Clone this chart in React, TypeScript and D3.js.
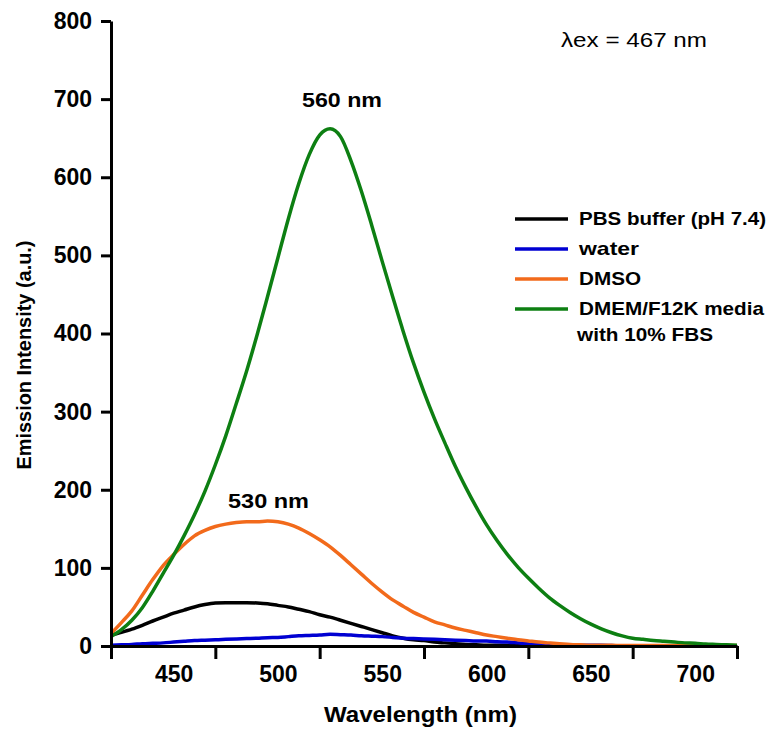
import React, { useEffect, useRef } from "react";
import * as d3 from "d3";

// Wavelength grid (nm) shared by all spectra
const wavelengths = [
  420, 425, 430, 435, 440, 445, 450, 455, 460, 465, 470, 475, 480, 485, 490,
  495, 500, 505, 510, 515, 520, 525, 530, 535, 540, 545, 550, 555, 560, 565,
  570, 575, 580, 585, 590, 595, 600, 605, 610, 615, 620, 625, 630, 635, 640,
  645, 650, 655, 660, 665, 670, 675, 680, 685, 690, 695, 700, 705, 710, 715,
  720,
];

// Emission intensities (a.u.)
const pbsBuffer = [
  14, 17.5, 21.5, 26.5, 32, 37, 42, 46, 50, 53, 55, 55.5, 55.5, 55.5, 55, 54,
  52, 50, 47, 44, 40, 37, 33, 29, 25, 21, 17, 13, 10, 8, 7, 5, 4, 3, 2, 1.5, 1,
  1, 1, 1, 0.5, 0, 0, 0, 0, 0, 0, 0, 0, 0, 0, 0, 0, 0, 0, 0, 0, 0, 0, 0, 0,
];
const water = [
  1, 1.5, 2, 3, 3.5, 4, 5, 6, 7, 7.5, 8, 8.5, 9, 9.5, 10, 10.7, 11, 12, 13,
  13.5, 14, 15, 14.5, 14, 13, 12.5, 12, 11, 10, 9.5, 9, 8.5, 8, 7.5, 7, 6.5,
  6.4, 5.5, 5, 4, 3, 2.5, 2, 1.5, 1.2, 1, 1, 1, 0.5, 0, 0, 0, 0, 0, 0, 0, 0,
  0, 0, 0, 0,
];
const dmso = [
  16, 30, 45, 65, 85, 103, 117, 130, 141, 148, 153, 156, 158, 159, 159, 160,
  159, 156, 151, 144, 136, 127, 116, 104, 92, 80, 69, 59, 51, 43, 37, 31, 27,
  23, 20, 17, 14, 12, 10, 8, 6.5, 5, 4, 3, 2, 1.5, 1, 1, 1, 0.5, 0.5, 0.5, 0.5,
  0.5, 0.5, 0.5, 0.5, 0.5, 0.5, 0.5, 0.5,
];
const dmemMedia = [
  12, 21, 33, 49, 70, 93, 116, 141, 168, 198, 232, 269, 310, 352, 398, 447,
  497, 547, 592, 629, 654, 662, 652, 621, 582, 538, 492, 447, 403, 362, 325,
  291, 260, 230, 203, 178, 155, 135, 117, 101, 87, 74, 62, 52, 43, 35, 28, 22,
  17, 13, 10, 8.5, 7, 6, 5, 4, 3.5, 2.5, 2, 1.5, 1,
];

const seriesNames = [
  "PBS buffer (pH 7.4)",
  "water",
  "DMSO",
  "DMEM/F12K media",
];
const seriesColors = ["#000000", "#0000d2", "#f26a1b", "#0d7f12"];
const seriesValues = [pbsBuffer, water, dmso, dmemMedia];

const xTickValues = [420, 470, 520, 570, 620, 670, 720];
const xLabelValues = [450, 500, 550, 600, 650, 700];
const yTickValues = [0, 100, 200, 300, 400, 500, 600, 700, 800];

const FONT = "'Liberation Sans', Arial, sans-serif";

export default function App() {
  const ref = useRef<SVGSVGElement>(null);

  useEffect(() => {
    const width = 771,
      height = 731;
    const left = 111,
      right = 737,
      top = 21,
      bottom = 646;

    const svg = d3.select(ref.current);
    svg.selectAll("*").remove();
    svg.attr("width", width).attr("height", height);

    const x = d3.scaleLinear().domain([420, 720]).range([left, right]);
    const y = d3.scaleLinear().domain([0, 800]).range([bottom, top]);

    // Curves, in legend order
    const line = d3
      .line<number>()
      .x((d, i) => x(wavelengths[i]))
      .y((d) => y(d))
      .curve(d3.curveMonotoneX);

    seriesValues.forEach((vals, i) => {
      svg
        .append("path")
        .attr("d", line(vals))
        .attr("fill", "none")
        .attr("stroke", seriesColors[i])
        .attr("stroke-width", 3.5)
        .attr("stroke-linejoin", "round");
    });

    // X axis: tick marks only
    const xAxis = svg
      .append("g")
      .attr("transform", `translate(0, ${bottom})`)
      .call(
        d3
          .axisBottom(x)
          .tickValues(xTickValues)
          .tickSize(13)
          .tickSizeOuter(0)
          .tickFormat(() => "")
      );
    xAxis.select(".domain").attr("stroke-width", 3);
    xAxis.selectAll(".tick line").attr("stroke-width", 3);

    // X axis labels sit between the tick marks
    const xLabels = svg
      .append("g")
      .attr("transform", `translate(0, ${bottom})`)
      .call(
        d3
          .axisBottom(x)
          .tickValues(xLabelValues)
          .tickSize(0)
          .tickPadding(20)
      );
    xLabels.select(".domain").remove();
    xLabels
      .selectAll(".tick text")
      .attr("font-family", FONT)
      .attr("font-weight", "bold")
      .attr("font-size", 23)
      .attr("fill", "#000");

    // Y axis
    const yAxis = svg
      .append("g")
      .attr("transform", `translate(${left}, 0)`)
      .call(
        d3
          .axisLeft(y)
          .tickValues(yTickValues)
          .tickSize(10)
          .tickSizeOuter(0)
          .tickPadding(9)
      );
    yAxis.select(".domain").attr("stroke-width", 3);
    yAxis.selectAll(".tick line").attr("stroke-width", 3);
    yAxis
      .selectAll(".tick text")
      .attr("font-family", FONT)
      .attr("font-weight", "bold")
      .attr("font-size", 23)
      .attr("fill", "#000");

    // Helper for text stretched to the width it has in the figure
    const addText = (
      tx: number,
      ty: number,
      txt: string,
      size: number,
      weight: string,
      len: number
    ) =>
      svg
        .append("text")
        .attr("x", tx)
        .attr("y", ty)
        .attr("font-family", FONT)
        .attr("font-weight", weight)
        .attr("font-size", size)
        .attr("textLength", len)
        .attr("lengthAdjust", "spacingAndGlyphs")
        .text(txt);

    // Axis titles
    addText(324, 722, "Wavelength (nm)", 22, "bold", 193);

    svg
      .append("text")
      .attr("transform", "translate(31, 355) rotate(-90)")
      .attr("text-anchor", "middle")
      .attr("font-family", FONT)
      .attr("font-weight", "bold")
      .attr("font-size", 21)
      .attr("textLength", 229)
      .attr("lengthAdjust", "spacingAndGlyphs")
      .text("Emission Intensity (a.u.)");

    // Annotations
    addText(561, 47, "λex = 467 nm", 21, "normal", 146);
    addText(302, 107, "560 nm", 20, "bold", 80);
    addText(228, 508, "530 nm", 20, "bold", 81);

    // Legend
    const legendY = [219, 249, 279, 309];
    const legendW = [187, 60, 62, 185];
    seriesNames.forEach((name, i) => {
      svg
        .append("line")
        .attr("x1", 515)
        .attr("x2", 568)
        .attr("y1", legendY[i])
        .attr("y2", legendY[i])
        .attr("stroke", seriesColors[i])
        .attr("stroke-width", 3.5);
      addText(579, legendY[i] + 6, name, 19, "bold", legendW[i]);
    });
    addText(577, 341, "with 10% FBS", 19, "bold", 136);
  }, []);

  return (
    <svg
      ref={ref}
      style={{ position: "absolute", left: 0, top: 0, background: "#fff" }}
    ></svg>
  );
}
